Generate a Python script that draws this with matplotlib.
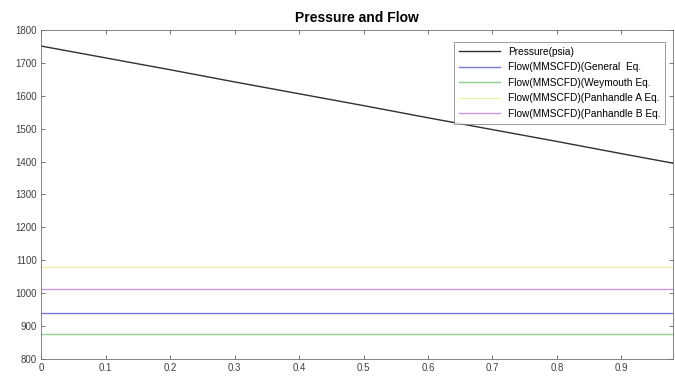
import numpy as np
import matplotlib
matplotlib.use('Agg')
import matplotlib.pyplot as plt

plt.rcParams['font.family'] = ['Liberation Sans', 'DejaVu Sans']

# x positions (fraction of pipe length) and pressure
x = [0, 0.1, 0.2, 0.3, 0.4, 0.5, 0.6, 0.7, 0.8, 0.9, 0.98]
pressure = [1751, 1715, 1679, 1642, 1606, 1570, 1533, 1497, 1461, 1424, 1395]

# flow rates (constant along the line)
flow_general = 940
flow_weymouth = 877
flow_panA = 1078
flow_panB = 1012

labels = ['Pressure(psia)', 'Flow(MMSCFD)(General  Eq.',
          'Flow(MMSCFD)(Weymouth Eq.', 'Flow(MMSCFD)(Panhandle A Eq.',
          'Flow(MMSCFD)(Panhandle B Eq.']

fig = plt.figure(figsize=(6.75, 3.79), dpi=100)
ax = fig.add_axes([0.061, 0.053, 0.936, 0.868])

ax.plot(x, pressure, color='#303030', lw=1.0, label=labels[0])
ax.plot(x, [flow_general] * len(x), color='#7878d8', lw=1.0, label=labels[1])
ax.plot(x, [flow_weymouth] * len(x), color='#8ed08e', lw=1.0, label=labels[2])
ax.plot(x, [flow_panA] * len(x), color='#f0f0a8', lw=1.0, label=labels[3])
ax.plot(x, [flow_panB] * len(x), color='#c898e0', lw=1.0, label=labels[4])

ax.set_xlim(0, 0.98)
ax.set_ylim(800, 1800)
ax.set_xticks(np.arange(0, 0.95, 0.1))
ax.set_xticklabels(['0', '0.1', '0.2', '0.3', '0.4', '0.5', '0.6', '0.7', '0.8', '0.9'])
ax.set_yticks(range(800, 1801, 100))
ax.tick_params(direction='in', top=True, right=True, labelsize=7, length=3,
               width=0.5, colors='#404040', pad=3)
for s in ax.spines.values():
    s.set_linewidth(0.6)
    s.set_color('#707070')

ax.set_title('Pressure and Flow', fontsize=10, fontweight='bold', pad=6)
leg = ax.legend(loc='upper right', fontsize=7.3, frameon=True, fancybox=False,
                edgecolor='#707070', handlelength=4.0, borderpad=0.5,
                labelspacing=0.55, handletextpad=0.8,
                bbox_to_anchor=(0.996, 0.98))
leg.get_frame().set_linewidth(0.6)

fig.savefig('out.png', dpi=100)
